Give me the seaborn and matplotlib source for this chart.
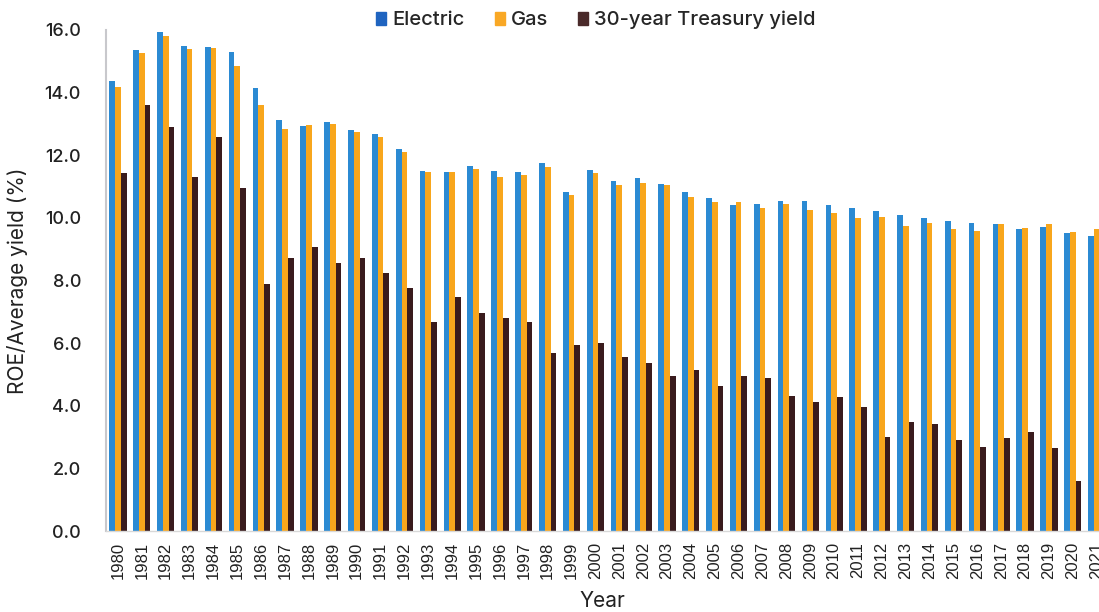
import matplotlib
matplotlib.use("Agg")
import matplotlib.pyplot as plt
import seaborn as sns
import pandas as pd

years = [str(y) for y in range(1980, 2022)]

electric = [14.38, 15.37, 15.94, 15.50, 15.46, 15.30, 14.15, 13.12, 12.94, 13.07,
            12.81, 12.68, 12.20, 11.50, 11.47, 11.66, 11.50, 11.47, 11.76, 10.83,
            11.53, 11.18, 11.28, 11.09, 10.83, 10.64, 10.42, 10.45, 10.54, 10.54,
            10.42, 10.32, 10.22, 10.10, 10.00, 9.90, 9.84, 9.80, 9.65, 9.71,
            9.52, 9.42]
gas = [14.19, 15.27, 15.81, 15.40, 15.43, 14.86, 13.61, 12.85, 12.97, 13.00,
       12.75, 12.59, 12.11, 11.47, 11.47, 11.57, 11.31, 11.38, 11.63, 10.73,
       11.44, 11.05, 11.12, 11.05, 10.67, 10.51, 10.51, 10.32, 10.45, 10.26,
       10.16, 10.00, 10.03, 9.74, 9.84, 9.65, 9.58, 9.81, 9.68, 9.81,
       9.55, 9.65]
treasury = [11.44, 13.61, 12.91, 11.31, 12.59, 10.96, 7.88, 8.72, 9.07, 8.56,
            8.72, 8.24, 7.76, 6.68, 7.48, 6.97, 6.80, 6.68, 5.69, 5.94,
            6.00, 5.56, 5.37, 4.95, 5.14, 4.63, 4.95, 4.89, 4.30, 4.12,
            4.28, 3.96, 3.00, 3.48, 3.42, 2.91, 2.68, 2.97, 3.16, 2.65,
            1.60, 2.05]

series_names = ["Electric", "Gas", "30-year Treasury yield"]
colors = ["#2b8ad3", "#f8a61c", "#3a1b1d"]
legend_colors = ["#1f64c0", "#f9a825", "#4a2a2a"]

df = pd.DataFrame({
    "Year": years * 3,
    "value": electric + gas + treasury,
    "series": [series_names[0]] * len(years) + [series_names[1]] * len(years)
              + [series_names[2]] * len(years),
})

sns.set_theme(style="white")
plt.rcParams["font.family"] = ["Inter", "DejaVu Sans"]

W, H = 1099, 612
fig = plt.figure(figsize=(W / 100, H / 100), dpi=100)
ax_left, ax_bottom, ax_top = 106, 531, 30
ax = fig.add_axes([ax_left / W, (H - ax_bottom) / H, 1 - ax_left / W,
                   (ax_bottom - ax_top) / H])

sns.barplot(data=df, x="Year", y="value", hue="series", hue_order=series_names,
            palette=colors, width=0.72, saturation=1, ax=ax, errorbar=None,
            linewidth=0)
ax.get_legend().remove()

ax.set_ylim(0, 16)
ax.set_yticks([0, 2, 4, 6, 8, 10, 12, 14, 16])
ax.set_yticklabels([f"{v:.1f}" for v in range(0, 17, 2)])
px = 23.87
first_center = 118
ax.set_xlim(-(first_center - ax_left) / px,
            41 + (W - (first_center + 41 * px)) / px)

for side in ["top", "right"]:
    ax.spines[side].set_visible(False)
ax.spines["left"].set_color("#c8c8cc")
ax.spines["left"].set_linewidth(1.5)
ax.spines["bottom"].set_color("#d8d8d8")
ax.spines["bottom"].set_linewidth(1.0)

ax.tick_params(axis="y", length=0, pad=18, labelsize=13, labelcolor="#222222")
ax.tick_params(axis="x", length=0, pad=8, labelsize=12, labelrotation=90,
               labelcolor="#222222")
for lbl in ax.get_xticklabels():
    lbl.set_fontfamily(["Liberation Sans", "DejaVu Sans"])
for lbl in ax.get_yticklabels():
    lbl.set_fontweight("medium")

ax.set_ylabel("ROE/Average yield (%)", fontsize=15, color="#222222", labelpad=12)
ax.set_xlabel("Year", fontsize=15, color="#222222", labelpad=8)

handles = [plt.Rectangle((0, 0), 1, 1, color=c) for c in legend_colors]
fig.legend(handles, series_names, loc="center", bbox_to_anchor=(596 / W, 1 - 20 / H),
           ncol=3, frameon=False, handlelength=0.5, handleheight=0.6,
           handletextpad=0.3, columnspacing=1.5,
           prop={"family": ["Inter", "DejaVu Sans"], "weight": "medium", "size": 14.5})

fig.savefig("out.png", dpi=100, facecolor="white")
